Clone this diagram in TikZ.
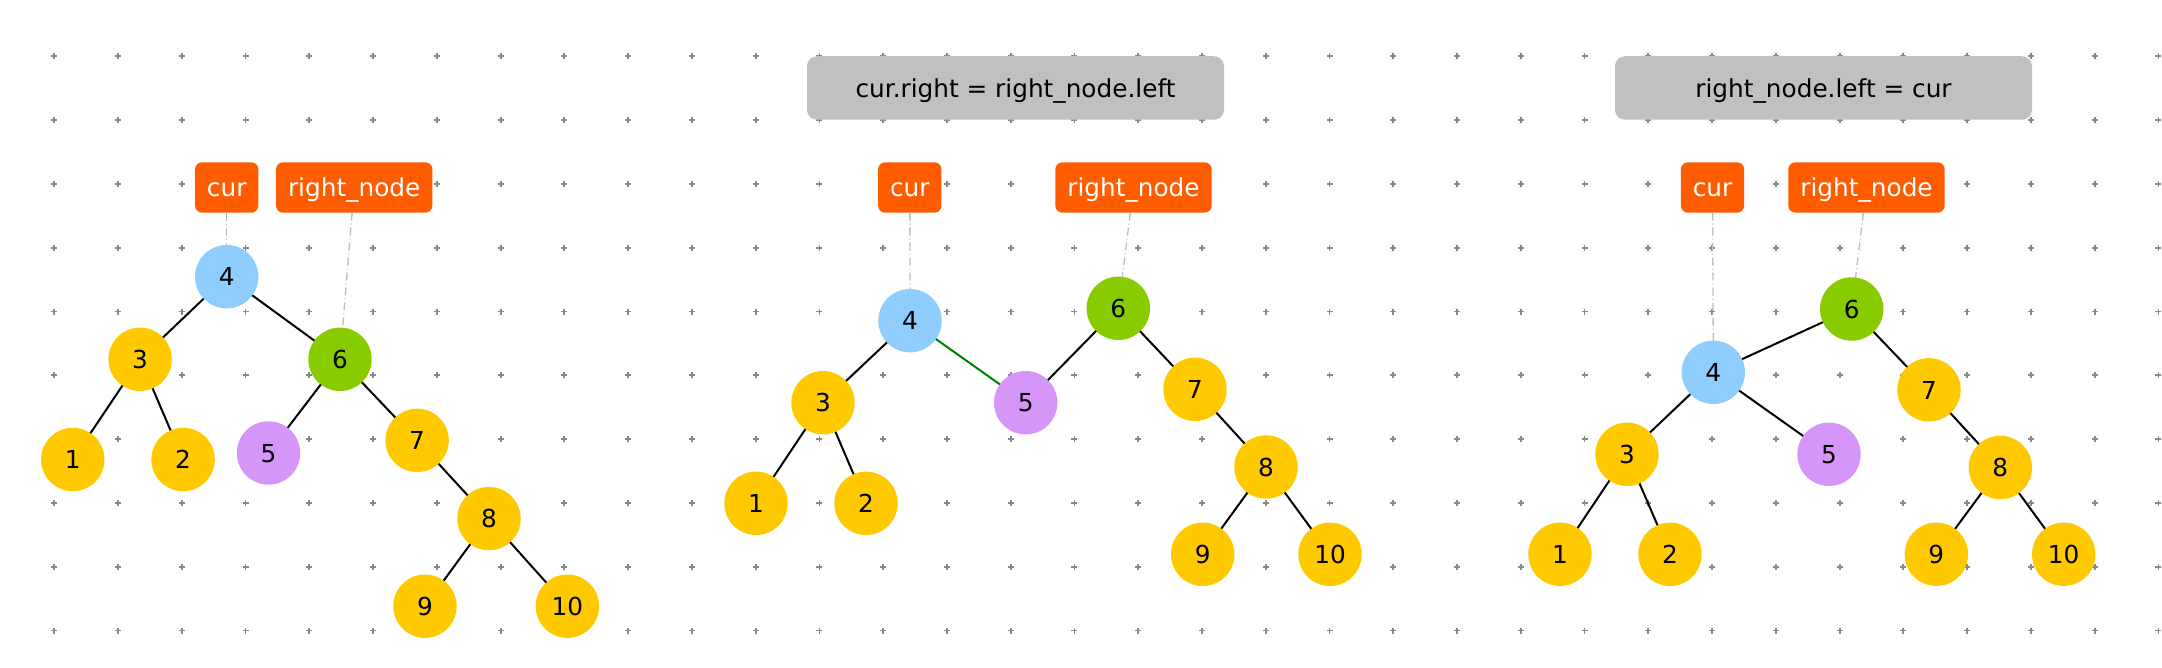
\documentclass[tikz,border=0pt]{standalone}
\usepackage{fontspec}
\setmainfont{DejaVu Sans}
\definecolor{yelC}{HTML}{FFC900}
\definecolor{bluC}{HTML}{8ECDFD}
\definecolor{grnC}{HTML}{88CC00}
\definecolor{purC}{HTML}{D695F9}
\definecolor{orgC}{HTML}{FF5C00}
\definecolor{boxC}{HTML}{C0C0C0}
\definecolor{dotC}{HTML}{888888}
\definecolor{ptrC}{HTML}{BDBDBD}
\definecolor{hlC}{HTML}{008000}
\tikzset{
  txt/.style={font=\fontsize{24.75}{30}\selectfont, text height=18.4pt, text depth=0pt, inner sep=0pt, outer sep=0pt},
  tn/.style={txt, circle, minimum size=63.4pt, fill=yelC},
  bl/.style={tn, fill=bluC},
  gr/.style={tn, fill=grnC},
  pu/.style={tn, fill=purC},
  lab/.style={txt, rectangle, rounded corners=7pt, fill=orgC, text=white, minimum height=50.4pt},
  capbox/.style={txt, rectangle, rounded corners=10pt, fill=boxC, minimum height=63.5pt, minimum width=417pt},
  edg/.style={line width=2pt, black},
  hl/.style={line width=2pt, hlC},
  ptr/.style={line width=1.3pt, ptrC, dash pattern=on 8pt off 3pt on 1pt off 3pt},
  plusmark/.style={line width=1.8pt, dotC}
}
\begin{document}
\begin{tikzpicture}[x=1pt,y=-1pt]
\useasboundingbox (0,0) rectangle (2162,668);
% dotted grid
\foreach \i in {0,...,33}{
  \foreach \j in {0,...,9}{
    \draw[plusmark] ({54.3+63.76*\i-3},{56.3+63.8*\j}) -- ++(6,0);
    \draw[plusmark] ({54.3+63.76*\i},{56.3+63.8*\j-3}) -- ++(0,6);
  }
}
% ---------------- panel 1
\node[lab, minimum width=63.3pt] (acur) at (226.7,187.5) {cur};
\node[lab, minimum width=156.3pt] (arn) at (354.2,187.5) {right\_node};
\node[bl] (a4) at (226.7,276.7) {4};
\node[tn] (a3) at (140.1,359.3) {3};
\node[gr] (a6) at (340,359.3) {6};
\node[tn] (a1) at (72.8,459.5) {1};
\node[tn] (a2) at (183.1,459.5) {2};
\node[pu] (a5) at (268.5,453) {5};
\node[tn] (a7) at (417.1,440.4) {7};
\node[tn] (a8) at (489,518.6) {8};
\node[tn] (a9) at (425,606.2) {9};
\node[tn] (a10) at (567.4,606.2) {10};
\draw[ptr] (acur) -- (a4);
\draw[ptr] (arn) -- (a6);
\draw[edg] (a4) -- (a3);
\draw[edg] (a4) -- (a6);
\draw[edg] (a3) -- (a1);
\draw[edg] (a3) -- (a2);
\draw[edg] (a6) -- (a5);
\draw[edg] (a6) -- (a7);
\draw[edg] (a7) -- (a8);
\draw[edg] (a8) -- (a9);
\draw[edg] (a8) -- (a10);
% ---------------- panel 2
\node[capbox] (bcap) at (1015.5,88) {cur.right = right\_node.left};
\node[lab, minimum width=63.3pt] (bcur) at (909.8,187.5) {cur};
\node[lab, minimum width=156.3pt] (brn) at (1133.5,187.5) {right\_node};
\node[bl] (b4) at (910,320.7) {4};
\node[gr] (b6) at (1118.3,308.3) {6};
\node[tn] (b3) at (823,402.7) {3};
\node[pu] (b5) at (1025.7,402.7) {5};
\node[tn] (b1) at (756,503.3) {1};
\node[tn] (b2) at (866,503.3) {2};
\node[tn] (b7) at (1195,389.3) {7};
\node[tn] (b8) at (1266,467) {8};
\node[tn] (b9) at (1202.7,554.3) {9};
\node[tn] (b10) at (1330,554.3) {10};
\draw[ptr] (bcur) -- (b4);
\draw[ptr] (brn) -- (b6);
\draw[edg] (b4) -- (b3);
\draw[hl] (b4) -- (b5);
\draw[edg] (b6) -- (b5);
\draw[edg] (b6) -- (b7);
\draw[edg] (b3) -- (b1);
\draw[edg] (b3) -- (b2);
\draw[edg] (b7) -- (b8);
\draw[edg] (b8) -- (b9);
\draw[edg] (b8) -- (b10);
% ---------------- panel 3
\node[capbox] (ccap) at (1823.5,88) {right\_node.left = cur};
\node[lab, minimum width=63.3pt] (ccur) at (1712.5,187.5) {cur};
\node[lab, minimum width=156.3pt] (crn) at (1866.5,187.5) {right\_node};
\node[gr] (c6) at (1851.7,309) {6};
\node[bl] (c4) at (1713.3,372.3) {4};
\node[tn] (c7) at (1929,389.8) {7};
\node[tn] (c3) at (1627,454.3) {3};
\node[pu] (c5) at (1829,454.3) {5};
\node[tn] (c8) at (2000.3,467.5) {8};
\node[tn] (c1) at (1560,554.3) {1};
\node[tn] (c2) at (1670,554.3) {2};
\node[tn] (c9) at (1936.3,554.3) {9};
\node[tn] (c10) at (2063.7,554.3) {10};
\draw[ptr] (ccur) -- (c4);
\draw[ptr] (crn) -- (c6);
\draw[edg] (c6) -- (c4);
\draw[edg] (c6) -- (c7);
\draw[edg] (c4) -- (c3);
\draw[edg] (c4) -- (c5);
\draw[edg] (c3) -- (c1);
\draw[edg] (c3) -- (c2);
\draw[edg] (c7) -- (c8);
\draw[edg] (c8) -- (c9);
\draw[edg] (c8) -- (c10);
\end{tikzpicture}
\end{document}
